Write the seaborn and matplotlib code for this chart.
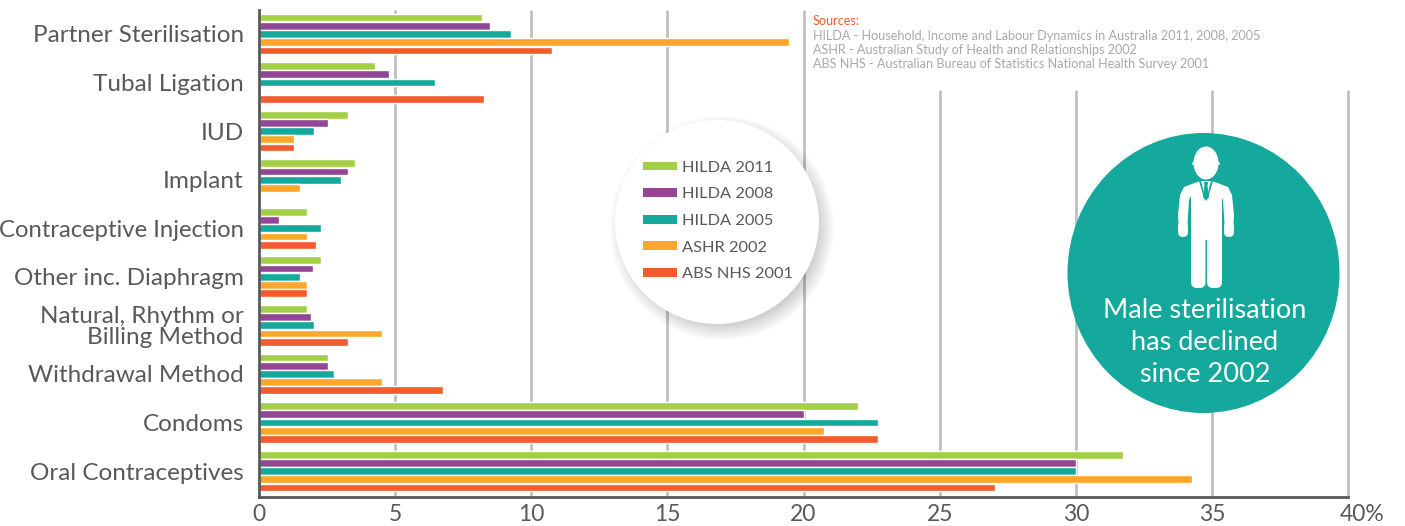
import matplotlib
matplotlib.use("Agg")
import matplotlib.pyplot as plt
from matplotlib.patches import Ellipse, Polygon, FancyBboxPatch, Patch
from matplotlib.transforms import ScaledTranslation
import seaborn as sns
import pandas as pd
import numpy as np

categories = ["Partner Sterilisation", "Tubal Ligation", "IUD", "Implant",
              "Contraceptive Injection", "Other inc. Diaphragm",
              "Natural, Rhythm or\nBilling Method", "Withdrawal Method",
              "Condoms", "Oral Contraceptives"]
hilda_2011 = [8.2, 4.25, 3.27, 3.53, 1.75, 2.27, 1.75, 2.53, 22.0, 31.75]
hilda_2008 = [8.5, 4.78, 2.53, 3.27, 0.75, 2.0, 1.9, 2.53, 20.0, 30.0]
hilda_2005 = [9.25, 6.48, 2.02, 3.0, 2.27, 1.5, 2.02, 2.75, 22.75, 30.0]
ashr_2002 = [19.47, np.nan, 1.28, 1.5, 1.75, 1.75, 4.5, 4.5, 20.75, 34.27]
abs_2001 = [10.75, 8.25, 1.28, np.nan, 2.1, 1.75, 3.27, 6.75, 22.75, 27.03]
series_names = ["HILDA 2011", "HILDA 2008", "HILDA 2005", "ASHR 2002", "ABS NHS 2001"]
colors = ["#a3cf47", "#924695", "#15a89c", "#fba72a", "#f35b2e"]
x_ticks = [0, 5, 10, 15, 20, 25, 30, 35, 40]
x_labels = ["0", "5", "10", "15", "20", "25", "30", "35", "40%"]
sources = ["HILDA - Household, Income and Labour Dynamics in Australia 2011, 2008, 2005",
           "ASHR - Australian Study of Health and Relationships 2002",
           "ABS NHS - Australian Bureau of Statistics National Health Survey 2001"]

df = pd.DataFrame({"cat": categories, series_names[0]: hilda_2011, series_names[1]: hilda_2008,
                   series_names[2]: hilda_2005, series_names[3]: ashr_2002, series_names[4]: abs_2001})
long = df.melt(id_vars="cat", var_name="series", value_name="value")

sns.set_theme(style="white")
plt.rcParams["font.family"] = ["Lato", "DejaVu Sans"]
W, H = 1405, 526
fig = plt.figure(figsize=(W / 100, H / 100), dpi=100, facecolor="white")
L, R, T, B = 259, 1348, 10, 497
ax = fig.add_axes([L / W, 1 - B / H, (R - L) / W, (B - T) / H])
TEXT = "#58595b"
GRID = "#bcbdc0"

sns.barplot(data=long, y="cat", x="value", hue="series", order=categories,
            hue_order=series_names, palette=colors, orient="h", width=0.845, gap=0.05,
            saturation=1, legend=False, ax=ax, zorder=3, errorbar=None)
ax.set_xlim(0, 40)
ax.set_ylim(9.535, -0.494)
ax.set_xlabel("")
ax.set_ylabel("")

# gridlines: the four on the right stop below the sources note
grid_top = ax.get_ylim()[1]
note_bottom = grid_top + (90 - T) / 48.55
for v in x_ticks[1:]:
    ax.vlines(v, ax.get_ylim()[0], grid_top if v <= 20 else note_bottom,
              color=GRID, lw=1.9, zorder=1, clip_on=False)

for s in ["top", "right"]:
    ax.spines[s].set_visible(False)
for s in ["left", "bottom"]:
    ax.spines[s].set_color(TEXT)
    ax.spines[s].set_linewidth(2.0)
    ax.spines[s].set_zorder(5)

ax.set_xticks(x_ticks, x_labels)
ax.tick_params(axis="x", length=0, pad=5, labelsize=16.5, labelcolor=TEXT)
ax.tick_params(axis="y", length=0, pad=11, labelsize=17.5, labelcolor=TEXT)
for lab in ax.get_yticklabels():
    lab.set_linespacing(1.0)
    if lab.get_text().startswith("Contraceptive"):
        lab.set_fontsize(17.2)
last = ax.get_xticklabels()[-1]
last.set_horizontalalignment("left")
last.set_transform(last.get_transform() + ScaledTranslation(-8 / 100, 0, fig.dpi_scale_trans))

# overlay in pixel coordinates
ov = fig.add_axes([0, 0, 1, 1], facecolor="none", zorder=10)
ov.set_xlim(0, W)
ov.set_ylim(H, 0)
ov.axis("off")

ov.text(813, 21, "Sources:", color="#f35b2e", fontsize=9.1, va="center", ha="left")
for yy, line in zip([36, 50, 64], sources):
    ov.text(813, yy, line, color="#a7a9ac", fontsize=9.1, va="center", ha="left")

# legend bubble with a soft shadow
for i in range(14):
    r = 112 - i * 1.4
    ov.add_patch(Ellipse((722, 228), 2 * r, 2 * r, color="#000000", alpha=0.016, lw=0))
ov.add_patch(Ellipse((717, 222), 204, 204, color="white", lw=0))
handles = [Patch(color=c, lw=0) for c in colors]
ov.legend(handles, series_names, loc="center left", bbox_to_anchor=(636 / W, 1 - 221 / H),
          frameon=False, fontsize=11.8, labelcolor=TEXT, handlelength=2.1, handleheight=0.45,
          handletextpad=0.3, labelspacing=0.77, borderpad=0, borderaxespad=0.4)

# callout
TEAL = "#15a89c"
ov.add_patch(Ellipse((1203.5, 273), 272, 280, color=TEAL, lw=0))
for yy, line in zip([310, 342, 374], ["Male sterilisation", "has declined", "since 2002"]):
    ov.text(1205, yy, line, color="white", fontsize=19.5, ha="center", va="center")

# man icon
ov.add_patch(Ellipse((1206, 163), 25, 33, color="white", lw=0))
ov.add_patch(Ellipse((1206, 163.5), 28, 7, color="white", lw=0))
def rr(x, y, w, h, rad):
    ov.add_patch(FancyBboxPatch((x + rad, y + rad), w - 2 * rad, h - 2 * rad,
                                boxstyle=f"round,pad={rad}", color="white", lw=0))
ov.add_patch(Polygon([(1191, 188), (1199, 181), (1213, 181), (1222, 188), (1222, 240), (1191, 240)],
                     color="white", lw=0))
rr(1191, 225, 14.5, 63, 6)
rr(1207, 225, 15, 63, 6)
ov.add_patch(Polygon([(1197, 182), (1184, 187), (1180, 195), (1178, 215), (1179, 232), (1187, 232),
                      (1189, 200), (1191, 196)], color="white", lw=0))
ov.add_patch(Polygon([(1215, 182), (1228, 187), (1232, 195), (1234, 215), (1233, 232), (1225, 232),
                      (1223, 200), (1221, 196)], color="white", lw=0))
rr(1178, 222, 10, 15, 5)
rr(1224, 222, 10, 15, 5)
ov.add_patch(Polygon([(1204, 182), (1208, 182), (1207.5, 186), (1209, 197), (1206, 201), (1203, 197), (1204.5, 186)],
                     color=TEAL, lw=0))
ov.add_patch(Polygon([(1199, 181), (1201, 180.5), (1205, 197), (1204, 198)], color=TEAL, lw=0))
ov.add_patch(Polygon([(1213, 181), (1211, 180.5), (1207, 197), (1208, 198)], color=TEAL, lw=0))

fig.savefig("out.png", dpi=100, facecolor="white")
